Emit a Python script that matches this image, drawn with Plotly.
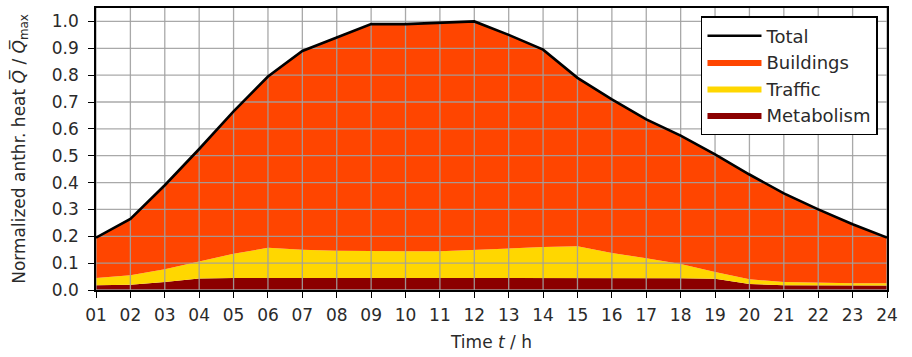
import plotly.graph_objects as go

hours = list(range(1, 25))
hour_labels = [f"{h:02d}" for h in hours]
y_ticks = [round(0.1 * i, 1) for i in range(11)]

total = [0.195, 0.265, 0.39, 0.525, 0.665, 0.795, 0.89, 0.94, 0.99, 0.99, 0.995, 1.0,
         0.95, 0.895, 0.79, 0.71, 0.635, 0.575, 0.505, 0.43, 0.36, 0.30, 0.245, 0.195]
traffic = [0.027, 0.035, 0.047, 0.062, 0.090, 0.112, 0.105, 0.101, 0.099, 0.099, 0.099, 0.105,
           0.110, 0.115, 0.118, 0.093, 0.073, 0.053, 0.025, 0.018, 0.012, 0.010, 0.008, 0.008]
metabolism = [0.018, 0.020, 0.030, 0.043, 0.045, 0.045, 0.045, 0.045, 0.045, 0.045, 0.045, 0.045,
              0.045, 0.045, 0.045, 0.045, 0.045, 0.044, 0.042, 0.022, 0.018, 0.017, 0.017, 0.017]
buildings = [t - tr - m for t, tr, m in zip(total, traffic, metabolism)]

C_BUILD = "#ff4500"
C_TRAF = "#ffd700"
C_MET = "#8b0000"
FONT = "DejaVu Sans"
TXT = "#2a2a2a"
Y_MAX = 1.05

fig = go.Figure()
fig.add_trace(go.Scatter(x=hours, y=metabolism, name="Metabolism", stackgroup="s",
                         mode="lines", line=dict(width=0, color=C_MET), fillcolor=C_MET,
                         legendrank=4, legendgroup="d"))
fig.add_trace(go.Scatter(x=hours, y=traffic, name="Traffic", stackgroup="s",
                         mode="lines", line=dict(width=0, color=C_TRAF), fillcolor=C_TRAF,
                         legendrank=3, legendgroup="c"))
fig.add_trace(go.Scatter(x=hours, y=buildings, name="Buildings", stackgroup="s",
                         mode="lines", line=dict(width=0, color=C_BUILD), fillcolor=C_BUILD,
                         legendrank=2, legendgroup="b"))

# grid drawn above the filled areas (matplotlib style)
gx, gy = [], []
for h in hours:
    gx += [h, h, None]
    gy += [0, Y_MAX, None]
for v in y_ticks:
    gx += [hours[0], hours[-1], None]
    gy += [v, v, None]
fig.add_trace(go.Scatter(x=gx, y=gy, mode="lines", line=dict(color="rgba(160,160,160,0.9)", width=1.3),
                         showlegend=False, hoverinfo="skip"))

fig.add_trace(go.Scatter(x=hours, y=total, name="Total", mode="lines",
                         line=dict(color="black", width=2.6), legendrank=1, legendgroup="a"))

axis_common = dict(showline=True, linecolor="black", linewidth=1.5, mirror=True,
                   ticks="outside", ticklen=6, tickwidth=1.3, tickcolor="black",
                   showgrid=False, zeroline=False, automargin=False,
                   tickfont=dict(family=FONT, size=17, color=TXT))

fig.update_xaxes(range=[1, 24], tickvals=hours, ticktext=hour_labels, ticklabelstandoff=3,
                 title=dict(text="Time <i>t</i> / h", font=dict(family=FONT, size=17, color=TXT), standoff=12),
                 **axis_common)
fig.update_yaxes(range=[0, Y_MAX], tickvals=y_ticks, tickformat=".1f", ticklabelstandoff=6,
                 title=dict(text="Normalized anthr. heat <i>Q̅</i> / <i>Q̅</i><sub>max</sub>",
                            font=dict(family=FONT, size=17, color=TXT), standoff=22),
                 **axis_common)

fig.update_layout(
    width=912, height=357,
    margin=dict(l=96, r=25, t=8, b=67),
    plot_bgcolor="white", paper_bgcolor="white",
    font=dict(family=FONT, size=17, color=TXT),
    showlegend=True,
    legend=dict(x=0.9886, y=0.9716, xanchor="right", yanchor="top",
                bgcolor="white", bordercolor="black", borderwidth=1.5,
                font=dict(family=FONT, size=18, color=TXT), tracegroupgap=5,
                itemwidth=54, traceorder="normal"),
)

fig.write_html("out.html", config={"displayModeBar": False},
               post_script="document.body.style.margin='0';")
